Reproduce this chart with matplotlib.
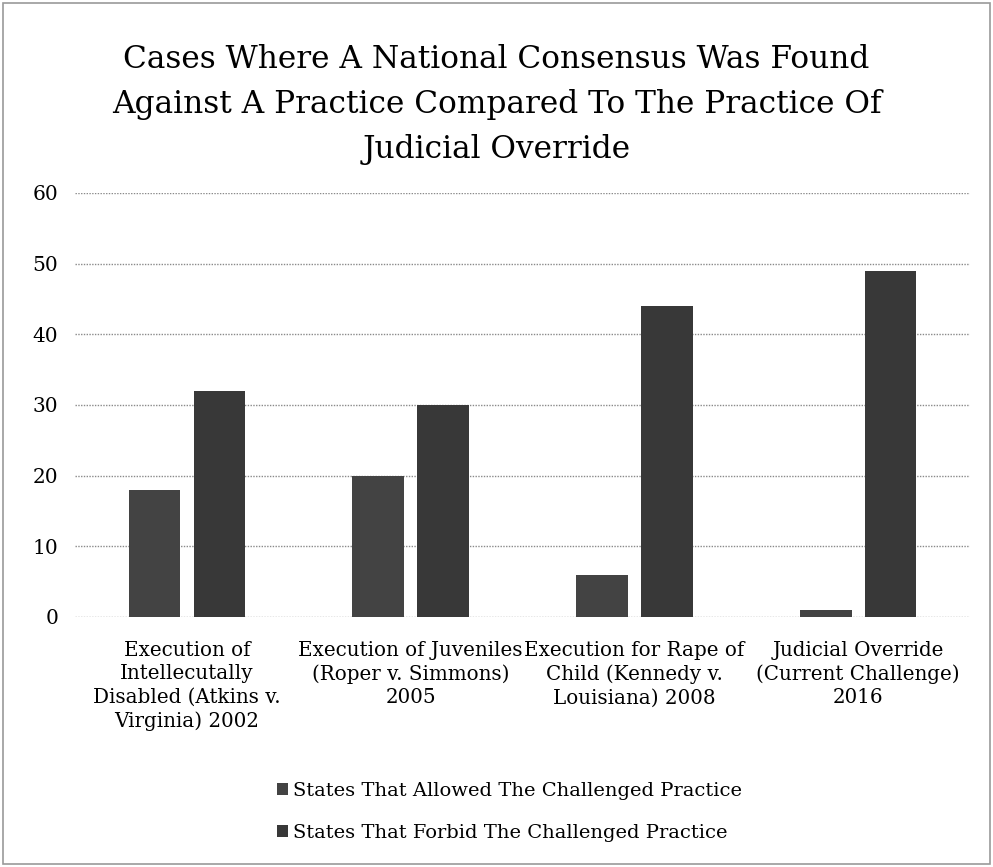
import matplotlib
matplotlib.use('Agg')
import matplotlib.pyplot as plt
import numpy as np

categories = ['Execution of\nIntellecutally\nDisabled (Atkins v.\nVirginia) 2002',
              'Execution of Juveniles\n(Roper v. Simmons)\n2005',
              'Execution for Rape of\nChild (Kennedy v.\nLouisiana) 2008',
              'Judicial Override\n(Current Challenge)\n2016']
allowed = [18, 20, 6, 1]
forbid = [32, 30, 44, 49]
series_names = ['States That Allowed The Challenged Practice',
                'States That Forbid The Challenged Practice']
yticks = [0, 10, 20, 30, 40, 50, 60]

plt.rcParams['font.family'] = ['DejaVu Serif']

fig = plt.figure(figsize=(9.93, 8.67), dpi=100)
ax = fig.add_axes([0.0755, 0.2884, 0.9015, 0.489])

x = np.arange(len(categories))
w = 0.23
ax.bar(x - 0.145, allowed, w, color='#434343', zorder=3, label=series_names[0])
ax.bar(x + 0.145, forbid, w, color='#383838', zorder=3, label=series_names[1])

ax.set_xlim(-0.5, 3.5)
ax.set_ylim(0, 60)
ax.set_yticks(yticks)
ax.set_yticklabels([str(t) for t in yticks], fontsize=14.5)
ax.set_xticks(x)
ax.set_xticklabels(categories, fontsize=14.3, linespacing=1.3)
ax.tick_params(axis='both', length=0)
ax.tick_params(axis='y', pad=12)
ax.tick_params(axis='x', pad=17)
ax.yaxis.grid(True, linestyle=(0, (1, 1)), color='#8a8a8a', linewidth=1, zorder=0)
for s in ax.spines.values():
    s.set_visible(False)

fig.text(0.5, 0.879, 'Cases Where A National Consensus Was Found\nAgainst A Practice Compared To The Practice Of\nJudicial Override',
         ha='center', va='center', fontsize=22.5, linespacing=1.58)

fig.legend(loc='center', bbox_to_anchor=(0.513, 1 - 812 / 867), frameon=False,
           fontsize=14, handlelength=0.55, handleheight=0.55, handletextpad=0.25,
           labelspacing=1.25)

fig.patches.append(plt.Rectangle((0.003, 0.003), 0.994, 0.994, transform=fig.transFigure,
                                 fill=False, edgecolor='#9a9a9a', linewidth=1.2))

fig.savefig('out.png', dpi=100)
